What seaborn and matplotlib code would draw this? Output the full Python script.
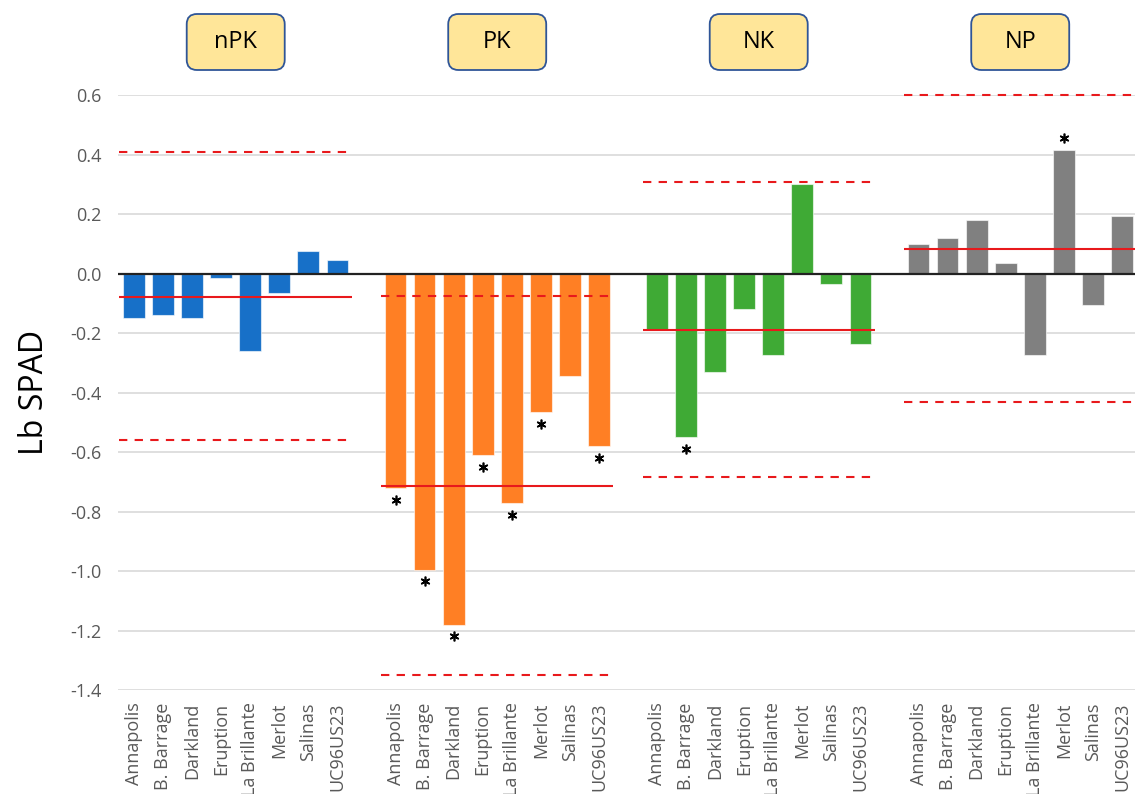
import numpy as np
import pandas as pd
import matplotlib
matplotlib.use("Agg")
import matplotlib.pyplot as plt
import seaborn as sns
from matplotlib.patches import FancyBboxPatch

# cultivars and treatment groups
cultivars = ["Annapolis", "B. Barrage", "Darkland", "Eruption",
             "La Brillante", "Merlot", "Salinas", "UC96US23"]
groups = ["nPK", "PK", "NK", "NP"]

# Lb SPAD values
npk_vals = [-0.15, -0.14, -0.15, -0.015, -0.26, -0.065, 0.075, 0.045]
pk_vals = [-0.72, -0.995, -1.18, -0.61, -0.77, -0.465, -0.345, -0.58]
nk_vals = [-0.19, -0.55, -0.33, -0.12, -0.275, 0.30, -0.035, -0.235]
np_vals = [0.10, 0.12, 0.18, 0.035, -0.275, 0.415, -0.105, 0.195]

# group mean (solid) and limits (dashed)
means = [-0.08, -0.715, -0.19, 0.082]
upper = [0.41, -0.075, 0.31, 0.60]
lower = [-0.56, -1.35, -0.685, -0.43]

# significance stars
sig_npk = [0, 0, 0, 0, 0, 0, 0, 0]
sig_pk = [1, 1, 1, 1, 1, 1, 0, 1]
sig_nk = [0, 1, 0, 0, 0, 0, 0, 0]
sig_np = [0, 0, 0, 0, 0, 1, 0, 0]

yticks = [-1.4, -1.2, -1.0, -0.8, -0.6, -0.4, -0.2, 0.0, 0.2, 0.4, 0.6]
ytick_labels = ["-1.4", "-1.2", "-1.0", "-0.8", "-0.6", "-0.4", "-0.2",
                "0.0", "0.2", "0.4", "0.6"]

colors = ["#1770C8", "#FF7F24", "#3FAA35", "#808080"]

vals = [npk_vals, pk_vals, nk_vals, np_vals]
sigs = [sig_npk, sig_pk, sig_nk, sig_np]
rows = []
for gi, g in enumerate(groups):
    for ci, c in enumerate(cultivars):
        rows.append({"group": g, "cultivar": c, "value": vals[gi][ci],
                     "sig": sigs[gi][ci], "pos": gi * 9 + ci})
df = pd.DataFrame(rows)

sns.set_style("white")
plt.rcParams["font.family"] = ["Open Sans", "DejaVu Sans"]

fig, ax = plt.subplots(figsize=(11.35, 7.94), dpi=100)
fig.subplots_adjust(left=0.104, right=1.0, top=0.880, bottom=0.131)

sns.barplot(data=df, x="pos", y="value", hue="group",
            palette=dict(zip(groups, colors)), native_scale=True,
            dodge=False, width=0.75, errorbar=None, legend=False,
            saturation=1, edgecolor=(1, 1, 1, 0.6), linewidth=0.8,
            ax=ax, zorder=2)

ax.set_xlim(-0.55, 34.45)
ax.set_ylim(-1.4, 0.6)
ax.set_yticks(yticks)
ax.set_yticklabels(ytick_labels)
ax.yaxis.grid(True, color="#D9D9D9", lw=1.2)
ax.set_axisbelow(True)
for s in ax.spines.values():
    s.set_visible(False)

ax.set_xticks(df["pos"])
ax.set_xticklabels(df["cultivar"], rotation=90)
ax.tick_params(axis="x", length=0, pad=9, labelsize=13, labelcolor="#595959")
ax.tick_params(axis="y", length=0, pad=12, labelsize=13, labelcolor="#595959")
ax.set_xlabel("")
ax.set_ylabel("Lb SPAD", fontsize=23, labelpad=14, color="black")

ax.axhline(0, color="#222222", lw=1.6, zorder=3)

for gi in range(len(groups)):
    x0 = gi * 9 - 0.5
    x1 = gi * 9 + 7.5
    ax.hlines(means[gi], x0, x1, color="#E8191C", lw=1.5, zorder=4)
    ax.hlines([upper[gi], lower[gi]], x0, x1, color="#E8191C", lw=1.5,
              linestyles=(0, (4, 3.5)), zorder=4, clip_on=False)

star = df[df["sig"] == 1]
ax.plot(star["pos"], star["value"] + np.where(star["value"] > 0, 0.043, -0.04),
        ls="none", marker=(6, 2, 0), ms=7, mew=1.2, color="black", zorder=5)

# group label boxes above the plot
to_fig = ax.transData + fig.transFigure.inverted()
bw, bh = 98 / 1135, 56 / 794
for gi, g in enumerate(groups):
    cx = to_fig.transform((gi * 9 + 3.5, 0))[0]
    cy = 1 - 42 / 794
    box = FancyBboxPatch((cx - bw / 2, cy - bh / 2), bw, bh,
                         boxstyle="round,pad=0,rounding_size=0.009",
                         mutation_aspect=1135 / 794,
                         transform=fig.transFigure, facecolor="#FFE699",
                         edgecolor="#2F5597", lw=1.3)
    fig.patches.append(box)
    fig.text(cx, cy, g, ha="center", va="center", fontsize=17, color="black")

fig.savefig("out.png", dpi=100)
